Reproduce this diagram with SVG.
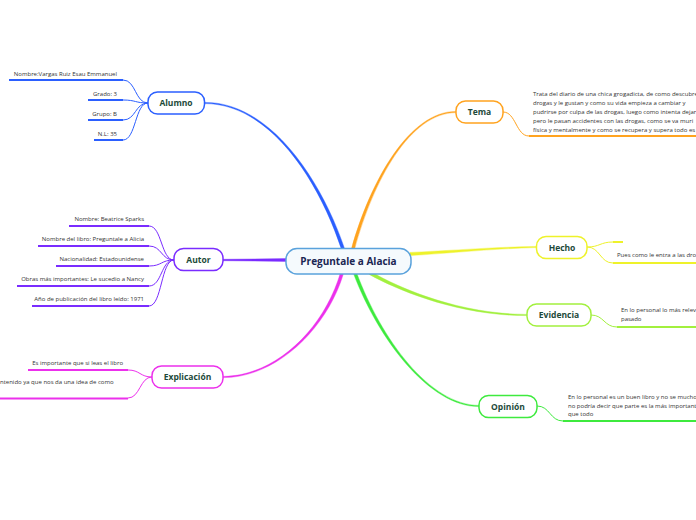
<svg xmlns="http://www.w3.org/2000/svg" width="696" height="520" viewBox="0 0 696 520">
<style>
.bg{fill:#ffffff}
.node{fill:#ffffff;stroke-width:1.5}
.lbl{font-family:"Open Sans","Noto Sans","DejaVu Sans",sans-serif;font-weight:bold;font-size:8.5px;fill:#1d4a3a;text-anchor:middle}
.leaf{font-family:"Open Sans","Noto Sans","DejaVu Sans",sans-serif;font-size:6px;fill:#333333}
.end{text-anchor:end}
.ul{fill:none;stroke-width:2}
.sub{fill:none;stroke-width:1}
.main{stroke-width:0.4;stroke-linejoin:round}
</style>
<rect class="bg" x="0" y="0" width="696" height="520"/>

<g id="connectors">
  <path class="main" fill="#2b5fff" stroke="#2b5fff" d="M344.5,248.5 C321.2,179.6 270,102.2 205,102.4 L205,103.6 C270,103.8 318.8,180.4 341.5,249.5 Z"/>
  <path class="main" fill="#ffa31f" stroke="#ffa31f" d="M354.5,249.4 C373.3,180.3 410,112.8 456,112.6 L456,111.4 C410,111.2 370.8,179.7 351.5,248.6 Z"/>
  <path class="main" fill="#eef22a" stroke="#eef22a" d="M410.1,255.6 C450.1,253.3 490,248.8 536,247.6 L536,246.4 C490,247.2 449.9,250.7 409.9,252.4 Z"/>
  <path class="main" fill="#a2f03e" stroke="#a2f03e" d="M369.2,274.4 C399.4,291.1 460,315.8 527,315.6 L527,314.4 C460,314.2 400.6,288.9 370.8,271.6 Z"/>
  <path class="main" fill="#3eea3e" stroke="#3eea3e" d="M353.5,273.6 C378.8,340.5 430,406.8 479,406.6 L479,405.4 C430,405.2 381.2,339.5 356.5,272.4 Z"/>
  <path class="main" fill="#ec30ec" stroke="#ec30ec" d="M340.5,272.5 C323.8,329.6 275,376.2 223,376.4 L223,377.6 C275,377.8 326.3,330.4 343.5,273.5 Z"/>
  <path class="main" fill="#7a2cff" stroke="#7a2cff" d="M286,258.6 L223,259.3 L223,260.7 L286,261.4 Z"/>
  <g stroke="#2b5fff">
    <path class="sub" d="M148,103 C135,103 136,80 123,80"/>
    <path class="sub" d="M148,103 C135,103 136,100 123,100"/>
    <path class="sub" d="M148,103 C135,103 136,120 123,120"/>
    <path class="sub" d="M148,103 C135,103 136,140 123,140"/>
  </g>
  <g stroke="#7a2cff">
    <path class="sub" d="M174,260 C161,260 162,226 149,226"/>
    <path class="sub" d="M174,260 C161,260 162,246 149,246"/>
    <path class="sub" d="M174,260 C161,260 162,266 149,266"/>
    <path class="sub" d="M174,260 C161,260 162,286 149,286"/>
    <path class="sub" d="M174,260 C161,260 162,306 149,306"/>
  </g>
  <g stroke="#ec30ec">
    <path class="sub" d="M152,377 C140,377 140,370 128,370"/>
    <path class="sub" d="M152,377 C140,377 140,398 128,398"/>
  </g>
  <path class="sub" stroke="#ffa31f" d="M503,112 C516,112 516,136 529,136"/>
  <g stroke="#eef22a">
    <path class="sub" d="M587,247 C600,247 600,242 613,242"/>
    <path class="sub" d="M587,247 C600,247 600,263 613,263"/>
  </g>
  <path class="sub" stroke="#a2f03e" d="M591,315 C604,315 604,327 617,327"/>
  <path class="sub" stroke="#3eea3e" d="M537,406 C550,406 550,421 563,421"/>
</g>

<g id="center">
  <rect x="286" y="248.5" width="125" height="25.5" rx="11" fill="#f5fafd" stroke="#5aa2dc" stroke-width="1.5"/>
  <text x="348.5" y="265" font-family="'Open Sans','Noto Sans','DejaVu Sans',sans-serif" font-weight="bold" font-size="10px" fill="#1b2653" text-anchor="middle">Preguntale a Alacia</text>
</g>

<g id="alumno">
  <rect class="node" x="148" y="92" width="56.5" height="22" rx="9.5" stroke="#2b5fff"/>
  <text class="lbl" x="176" y="106">Alumno</text>
  <line class="ul" x1="9" y1="80" x2="123" y2="80" stroke="#2b5fff"/>
  <text class="leaf end" x="117" y="75.5">Nombre:Vargas Ruiz Esau Emmanuel</text>
  <line class="ul" x1="88" y1="100" x2="123" y2="100" stroke="#2b5fff"/>
  <text class="leaf end" x="117" y="95.5">Grado: 3</text>
  <line class="ul" x1="88" y1="120" x2="123" y2="120" stroke="#2b5fff"/>
  <text class="leaf end" x="117" y="115.5">Grupo: B</text>
  <line class="ul" x1="94" y1="140" x2="123" y2="140" stroke="#2b5fff"/>
  <text class="leaf end" x="117" y="135.5">N.L: 35</text>
</g>

<g id="autor">
  <rect class="node" x="174" y="248.5" width="49" height="22" rx="9.5" stroke="#7a2cff"/>
  <text class="lbl" x="198.5" y="262.5">Autor</text>
  <line class="ul" x1="69" y1="226" x2="149" y2="226" stroke="#7a2cff"/>
  <text class="leaf end" x="144" y="221">Nombre: Beatrice Sparks</text>
  <line class="ul" x1="38" y1="246" x2="149" y2="246" stroke="#7a2cff"/>
  <text class="leaf end" x="144" y="241">Nombre del libro: Preguntale a Alicia</text>
  <line class="ul" x1="56" y1="266" x2="149" y2="266" stroke="#7a2cff"/>
  <text class="leaf end" x="144" y="261">Nacionalidad: Estadounidense</text>
  <line class="ul" x1="17" y1="286" x2="149" y2="286" stroke="#7a2cff"/>
  <text class="leaf end" x="144" y="281">Obras más importantes: Le sucedio a Nancy</text>
  <line class="ul" x1="32" y1="306" x2="149" y2="306" stroke="#7a2cff"/>
  <text class="leaf end" x="144" y="301">Año de publicación del libro leído: 1971</text>
</g>

<g id="explicacion">
  <rect class="node" x="152" y="366" width="71" height="22" rx="9.5" stroke="#ec30ec"/>
  <text class="lbl" x="187.5" y="380">Explicación</text>
  <line class="ul" x1="28" y1="370" x2="128" y2="370" stroke="#ec30ec"/>
  <text class="leaf end" x="123" y="364.5">Es importante que si leas el libro</text>
  <line class="ul" x1="0" y1="398.5" x2="128" y2="398.5" stroke="#ec30ec"/>
  <text class="leaf" x="0" y="384">ntenido ya que nos da una idea de como</text>
</g>

<g id="tema">
  <rect class="node" x="456" y="101" width="47" height="22" rx="9.5" stroke="#ffa31f"/>
  <text class="lbl" x="479.5" y="115">Tema</text>
  <line class="ul" x1="529" y1="136" x2="696" y2="136" stroke="#ffa31f"/>
  <text class="leaf" x="533" y="96">Trata del diario de una chica grogadicta, de como descubre</text>
  <text class="leaf" x="533" y="105">drogas y le gustan y como su vida empieza a cambiar y</text>
  <text class="leaf" x="533" y="114">pudrirse por culpa de las drogas, luego como intenta dejar</text>
  <text class="leaf" x="533" y="123">pero le pasan accidentes con las drogas, como se va muri</text>
  <text class="leaf" x="533" y="132">física y mentalmente y como se recupera y supera todo es</text>
</g>

<g id="hecho">
  <rect class="node" x="536.5" y="236.5" width="50.5" height="22" rx="9.5" stroke="#eef22a"/>
  <text class="lbl" x="562" y="250.5">Hecho</text>
  <line class="ul" x1="613" y1="242" x2="623" y2="242" stroke="#eef22a"/>
  <line class="ul" x1="613" y1="263" x2="696" y2="263" stroke="#eef22a"/>
  <text class="leaf" x="617" y="257">Pues como le entra a las dro</text>
</g>

<g id="evidencia">
  <rect class="node" x="527" y="304" width="64" height="22" rx="9.5" stroke="#a2f03e"/>
  <text class="lbl" x="559" y="318">Evidencia</text>
  <line class="ul" x1="617" y1="327" x2="696" y2="327" stroke="#a2f03e"/>
  <text class="leaf" x="621" y="312">En lo personal lo más relev</text>
  <text class="leaf" x="621" y="321">pasado</text>
</g>

<g id="opinion">
  <rect class="node" x="479" y="395.5" width="58" height="22" rx="9.5" stroke="#3eea3e"/>
  <text class="lbl" x="508" y="409.5">Opinión</text>
  <line class="ul" x1="563" y1="421" x2="696" y2="421" stroke="#3eea3e"/>
  <text class="leaf" x="568" y="399">En lo personal es un buen libro y no se mucho</text>
  <text class="leaf" x="568" y="407.5">no podría decir que parte es la más importante</text>
  <text class="leaf" x="568" y="416">que todo</text>
</g>
</svg>
